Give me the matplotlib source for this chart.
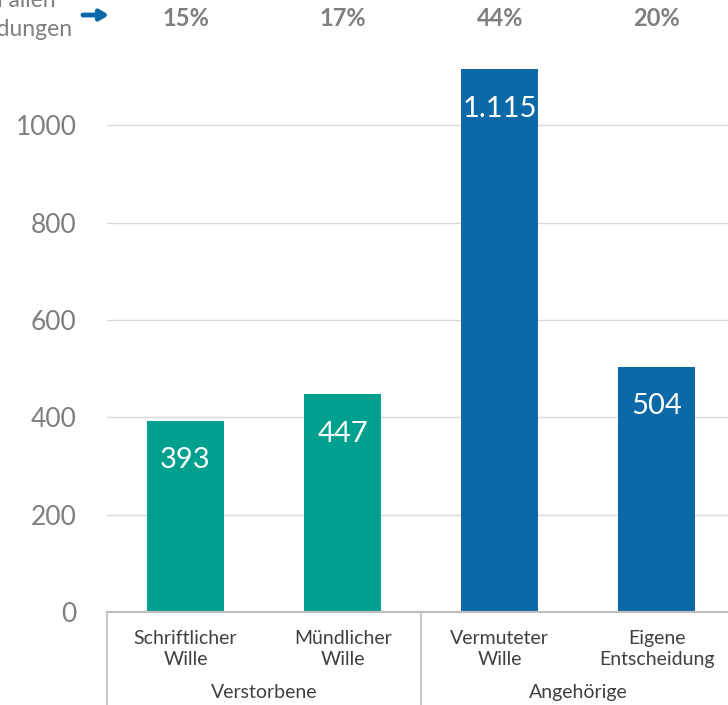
import matplotlib
matplotlib.use('Agg')
import matplotlib.pyplot as plt
import numpy as np

plt.rcParams['font.family'] = ['Lato', 'DejaVu Sans']

# data
categories = ['Schriftlicher\nWille', 'Mündlicher\nWille', 'Vermuteter\nWille', 'Eigene\nEntscheidung']
values = [393, 447, 1115, 504]
value_labels = ['393', '447', '1.115', '504']
shares = ['15%', '17%', '44%', '20%']
groups = ['Verstorbene', 'Angehörige']
group_spans = [(0, 1), (2, 3)]

teal = '#00A08F'
blue = '#0B69A8'
colors = [teal, teal, blue, blue]
grey_txt = '#7F7F7F'
dark_txt = '#404040'

W, H = 728, 705
fig = plt.figure(figsize=(W / 100, H / 100), dpi=100)

# axes runs a bit past the right edge (reference is cropped)
left_px, right_px, bottom_px = 107, 735.5, 612
ax = fig.add_axes([left_px / W, (H - bottom_px) / H, (right_px - left_px) / W, bottom_px / H])

x = np.arange(len(categories))
ax.bar(x, values, width=0.49, color=colors, zorder=3)
ax.set_xlim(-0.5, len(categories) - 0.5)
ax.set_ylim(0, 1257)

ax.set_yticks([0, 200, 400, 600, 800, 1000])
ax.tick_params(axis='y', length=0, pad=22, labelsize=19, labelcolor=grey_txt)
ax.set_xticks([])
ax.grid(axis='y', color='#D9D9D9', lw=1, zorder=0)

for s in ['top', 'right', 'left']:
    ax.spines[s].set_visible(False)
ax.spines['bottom'].set_color('#BFBFBF')
ax.spines['bottom'].set_linewidth(1.6)
ax.spines['bottom'].set_zorder(4)

for xi, v, lab in zip(x, values, value_labels):
    ax.annotate(lab, (xi, v), xytext=(0, -28.5), textcoords='offset points',
                ha='center', va='center', color='white', fontsize=21)

# category labels below the axis (baseline of the 2nd line at y=665 px)
trans = ax.get_xaxis_transform()
for xi, cat in zip(x, categories):
    ax.text(xi, (bottom_px - 665) / bottom_px, cat, transform=trans, ha='center',
            va='baseline', fontsize=14, color=dark_txt, linespacing=1.3,
            multialignment='center')

for (a, b), g in zip(group_spans, groups):
    ax.text((a + b) / 2, (bottom_px - 698) / bottom_px, g, transform=trans, ha='center',
            va='baseline', fontsize=14, color=dark_txt)

# separators between category groups
for sx in [-0.5, 1.5, 3.5]:
    ax.plot([sx, sx], [0, -93 / bottom_px], transform=trans, color='#BFBFBF',
            lw=1.2, clip_on=False, zorder=4)

# share of all decisions on top
for xi, sh in zip(x, shares):
    ax.text(xi, 1 - 18 / bottom_px, sh, transform=trans, ha='center', va='center',
            fontsize=17, fontweight='bold', color=grey_txt)

fig.text(56 / W, 1 - 7 / H, 'Anteil an allen', ha='right', va='baseline',
         fontsize=16.5, color=grey_txt)
fig.text(73 / W, 1 - 36 / H, 'Entscheidungen', ha='right', va='baseline',
         fontsize=16.5, color=grey_txt)

ax.annotate('', xy=(109 / W, 1 - 15 / H), xytext=(83 / W, 1 - 15 / H),
            xycoords='figure fraction', textcoords='figure fraction',
            arrowprops=dict(arrowstyle='-|>,head_length=0.5,head_width=0.3',
                            color=blue, lw=3.5, shrinkA=0, shrinkB=0))

fig.savefig('out.png', dpi=100)
